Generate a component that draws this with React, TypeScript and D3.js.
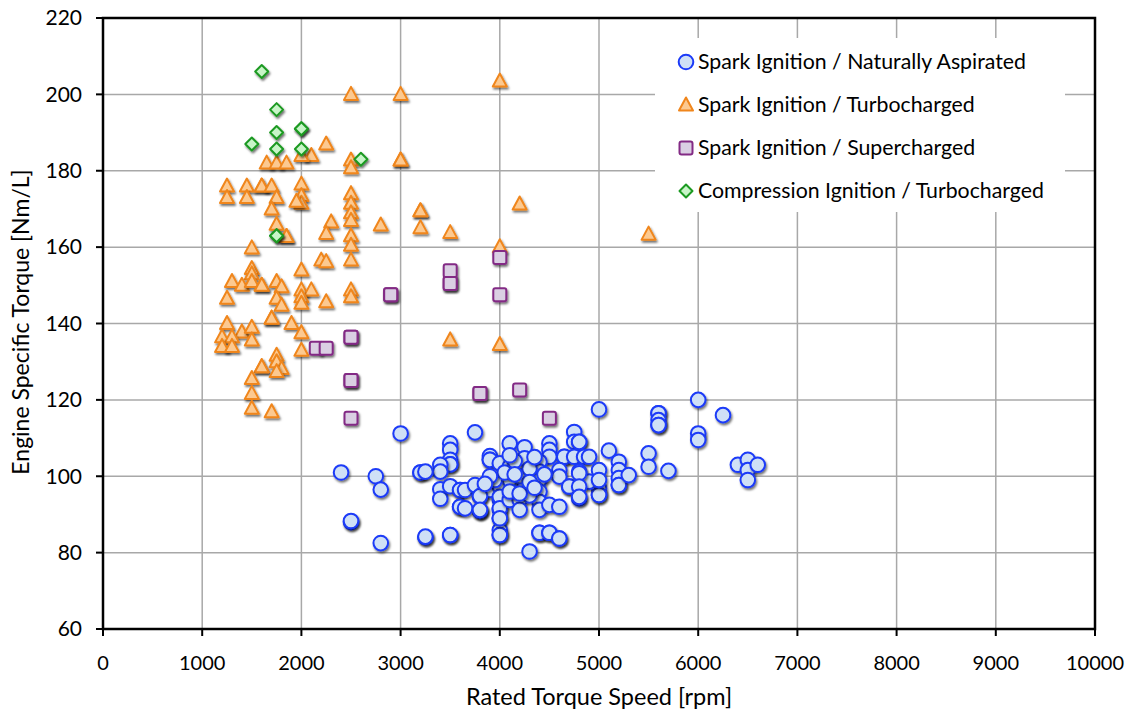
import React from "react";
import * as d3 from "d3";

const W = 1137;
const H = 717;

const xTicks = [0, 1000, 2000, 3000, 4000, 5000, 6000, 7000, 8000, 9000, 10000];
const yTicks = [60, 80, 100, 120, 140, 160, 180, 200, 220];

const seriesNames = [
  "Spark Ignition / Naturally Aspirated",
  "Spark Ignition / Turbocharged",
  "Spark Ignition / Supercharged",
  "Compression Ignition / Turbocharged",
];

// [rpm, Nm/L]
const naturallyAspirated: [number, number][] = [
  [3000, 111.2], [2500, 88], [2500, 88.3], [2400, 101], [2750, 100], [2800, 96.5], [2800, 82.5], [3250, 84], [3250, 84.2],
  [3750, 111.5], [4100, 108.6], [3500, 108.6], [3500, 106.9], [3500, 104.3], [3500, 103.1], [3500, 103.1], [3400, 103],
  [3400, 101.2], [3200, 101], [3200, 101], [3250, 101.2], [3900, 105.3], [3900, 104.3], [3900, 104.3], [3400, 96.6],
  [3400, 94.1], [3500, 97.4], [3600, 96.4], [3600, 96.4], [3750, 97.4], [3800, 94.7], [3900, 96.4], [3600, 92], [3600, 92],
  [3800, 90.9], [3800, 90.9], [4000, 93.8], [4000, 91.2], [4000, 89], [4000, 85.9], [4000, 84.6], [4000, 84.6], [3500, 84.6],
  [3500, 84.6], [4300, 80.3], [4400, 85.2], [4400, 85.2], [4500, 85.2], [4500, 85.2], [4600, 83.7], [4600, 83.7],
  [4250, 107.6], [4250, 104.7], [4500, 108.6], [4500, 106.9], [4500, 105.1], [4750, 111.6], [4750, 109], [4800, 109],
  [4800, 109], [4000, 103.4], [4100, 102.5], [4400, 103.8], [4400, 101.2], [4400, 99], [4400, 96], [4400, 93.3], [4400, 91.2],
  [4650, 105.1], [4650, 105.1], [4750, 105.1], [4850, 105.1], [4900, 105.1], [5000, 101.6], [5000, 96.8], [5000, 95.1],
  [5000, 95.1], [5100, 106.7], [5200, 103.8], [5200, 101.6], [5200, 99.5], [5200, 97.7], [5200, 97.7], [5300, 100.3],
  [5500, 106], [5500, 102.5], [5700, 101.4], [5600, 116.5], [5600, 116.5], [5600, 114.7], [5600, 113.4], [5600, 113.4],
  [6000, 120], [6250, 116], [6000, 111.2], [6000, 109.5], [6400, 103], [6500, 104.3], [6500, 101.6], [6500, 99], [6600, 103],
  [5000, 117.5], [4000, 97.3], [4000, 94.6], [4000, 91.6], [4000, 89], [4100, 93.8], [4200, 93.8], [4200, 91.2], [4250, 97.3],
  [4500, 92.5], [4600, 92], [4600, 101.6], [4600, 99.9], [4700, 97.3], [4700, 97.3], [4800, 101.2], [4800, 94.2], [4900, 98.6],
  [5000, 99], [3650, 96.4], [3650, 91.6], [3750, 97.7], [3800, 94.8], [3800, 91.2], [4800, 100.8], [4800, 97.3], [4800, 94.6],
  [4100, 99], [4200, 100], [4300, 102], [4100, 96], [4300, 95], [3950, 99], [4050, 101], [3900, 100], [4200, 95.5],
  [4300, 98.5], [4350, 105], [4150, 104], [4100, 105.5], [4350, 97], [4450, 100.5], [3850, 98], [4150, 100.5],
];

const turbocharged: [number, number][] = [
  [4000, 203.5], [2500, 200], [3000, 200], [3000, 182.8], [3000, 182.8], [2500, 182.8], [2500, 180.8], [2250, 187], [2100, 184],
  [1650, 182], [1750, 182], [1850, 182], [2000, 184], [1250, 176], [1450, 176], [1600, 176], [1600, 176], [1700, 176],
  [2000, 176.5], [1250, 173], [1450, 173], [1750, 173], [2000, 173.5], [2000, 171.5], [1950, 172], [2500, 174], [2500, 171.5],
  [1700, 170], [2500, 169], [2500, 167], [2300, 166.6], [2800, 165.8], [1750, 166], [2250, 163.6], [2500, 163], [1850, 162.8],
  [1850, 162.8], [2500, 160.5], [1500, 159.8], [2500, 156.6], [2200, 156.6], [2250, 156.2], [2000, 154], [1500, 154.4],
  [1500, 153], [1300, 151], [1400, 150], [1500, 151], [1600, 150], [1600, 150], [1750, 151], [1800, 149.6], [2000, 148.8],
  [2100, 148.8], [2500, 148.8], [2500, 147], [1250, 146.6], [1750, 146.6], [2000, 147], [2000, 145.3], [2250, 145.7],
  [1800, 144.8], [1700, 141.4], [1700, 141.4], [1900, 140], [2000, 137.6], [1250, 140], [1400, 137.8], [1500, 139],
  [1200, 136.5], [1300, 136.5], [1500, 135.7], [1200, 134], [1300, 134], [2000, 133], [1750, 131.7], [1600, 128.7],
  [1600, 128.7], [1750, 130], [1800, 128.2], [1750, 127.4], [1500, 125.6], [1500, 121.7], [1500, 117.8], [1700, 116.9],
  [4200, 171.3], [5500, 163.4], [3200, 169.5], [3200, 169.5], [3200, 165.1], [3500, 163.8], [4000, 160.1], [3500, 135.7],
  [4000, 134.5],
];

const supercharged: [number, number][] = [
  [4000, 157.3], [3500, 153.8], [3500, 150.5], [3500, 150.5], [4000, 147.5], [3800, 121.7], [3800, 121.7], [4200, 122.6],
  [4500, 115.2], [2900, 147.5], [2900, 147.5], [2150, 133.5], [2250, 133.5], [2500, 136.4], [2500, 136.4], [2500, 125.1],
  [2500, 125.1], [2500, 115.2],
];

const ciTurbocharged: [number, number][] = [
  [1600, 206], [1750, 196], [1500, 187], [1750, 190], [2000, 191], [2000, 191], [1750, 185.7], [2000, 185.7], [2600, 183],
  [1750, 163], [1750, 163],
];

const FONT = "Lato, 'Open Sans', sans-serif";

const styles = [
  { stroke: "#1b3af8", fill: "#cfe0f6" },
  { stroke: "#f0861c", fill: "#fcc990" },
  { stroke: "#832b85", fill: "#dacfe3" },
  { stroke: "#1c9a22", fill: "#c8f5c8" },
];

function Marker({ kind, x, y, shadow }: { kind: number; x: number; y: number; shadow?: boolean }) {
  const s = styles[kind];
  const common = {
    fill: s.fill,
    stroke: s.stroke,
    strokeWidth: 2,
    filter: shadow ? "url(#shadow)" : undefined,
  } as any;
  if (kind === 0) return <circle cx={x} cy={y} r={7.3} {...common} />;
  if (kind === 1)
    return <path d={`M${x},${y - 7.5}L${x + 7},${y + 5.5}L${x - 7},${y + 5.5}Z`} strokeLinejoin="round" {...common} />;
  if (kind === 2) return <rect x={x - 6.5} y={y - 6.5} width={13} height={13} rx={2} {...common} />;
  return <path d={`M${x},${y - 6.5}L${x + 6.5},${y}L${x},${y + 6.5}L${x - 6.5},${y}Z`} strokeLinejoin="round" {...common} />;
}

export default function App() {
  const x = d3.scaleLinear().domain([0, 10000]).range([103, 1095]);
  const y = d3.scaleLinear().domain([60, 220]).range([629, 18]);
  const all = [naturallyAspirated, turbocharged, supercharged, ciTurbocharged];

  return (
    <svg width={W} height={H} style={{ position: "absolute", left: 0, top: 0, background: "#fff" }} fontFamily={FONT}>
      <defs>
        <filter id="shadow" x="-50%" y="-50%" width="200%" height="200%">
          <feDropShadow dx={1.2} dy={2} stdDeviation={1.3} floodColor="#000" floodOpacity={0.55} />
        </filter>
      </defs>
      {xTicks.map((t) => (
        <line key={"gx" + t} x1={x(t)} x2={x(t)} y1={y(220)} y2={y(60)} stroke="#a8a8a8" strokeWidth={1.5} />
      ))}
      {yTicks.map((t) => (
        <line key={"gy" + t} x1={x(0)} x2={x(10000)} y1={y(t)} y2={y(t)} stroke="#a8a8a8" strokeWidth={1.5} />
      ))}
      <rect x={655} y={38} width={410} height={174} fill="#fff" />
      <rect x={x(0)} y={y(220)} width={x(10000) - x(0)} height={y(60) - y(220)} fill="none" stroke="#000" strokeWidth={2.5} />
      {yTicks.map((t) => (
        <g key={"ty" + t}>
          <line x1={x(0) - 7} x2={x(0)} y1={y(t)} y2={y(t)} stroke="#000" strokeWidth={2} />
          <text x={82} y={y(t)} dy="0.35em" textAnchor="end" fontSize={21} fill="#000">
            {t}
          </text>
        </g>
      ))}
      {xTicks.map((t) => (
        <g key={"tx" + t}>
          <line x1={x(t)} x2={x(t)} y1={y(60)} y2={y(60) + 7} stroke="#000" strokeWidth={2} />
          <text x={x(t)} y={663} dy="0.35em" textAnchor="middle" fontSize={20} fill="#000">
            {t}
          </text>
        </g>
      ))}
      <text x={599} y={697} dy="0.35em" textAnchor="middle" fontSize={23.5} fill="#000">
        Rated Torque Speed [rpm]
      </text>
      <text transform={`translate(21,${322}) rotate(-90)`} dy="0.35em" textAnchor="middle" fontSize={23} fill="#000">
        Engine Specific Torque [Nm/L]
      </text>
      {all.map((data, k) => (
        <g key={"s" + k}>
          {data.map(([a, b], i) => (
            <Marker key={i} kind={k} x={x(a)} y={y(b)} shadow />
          ))}
        </g>
      ))}
      {seriesNames.map((n, i) => (
        <g key={"lg" + i}>
          <Marker kind={i} x={686} y={62 + i * 43} />
          <text x={698} y={62 + i * 43} dy="0.35em" fontSize={21.3} fill="#000">
            {n}
          </text>
        </g>
      ))}
    </svg>
  );
}
